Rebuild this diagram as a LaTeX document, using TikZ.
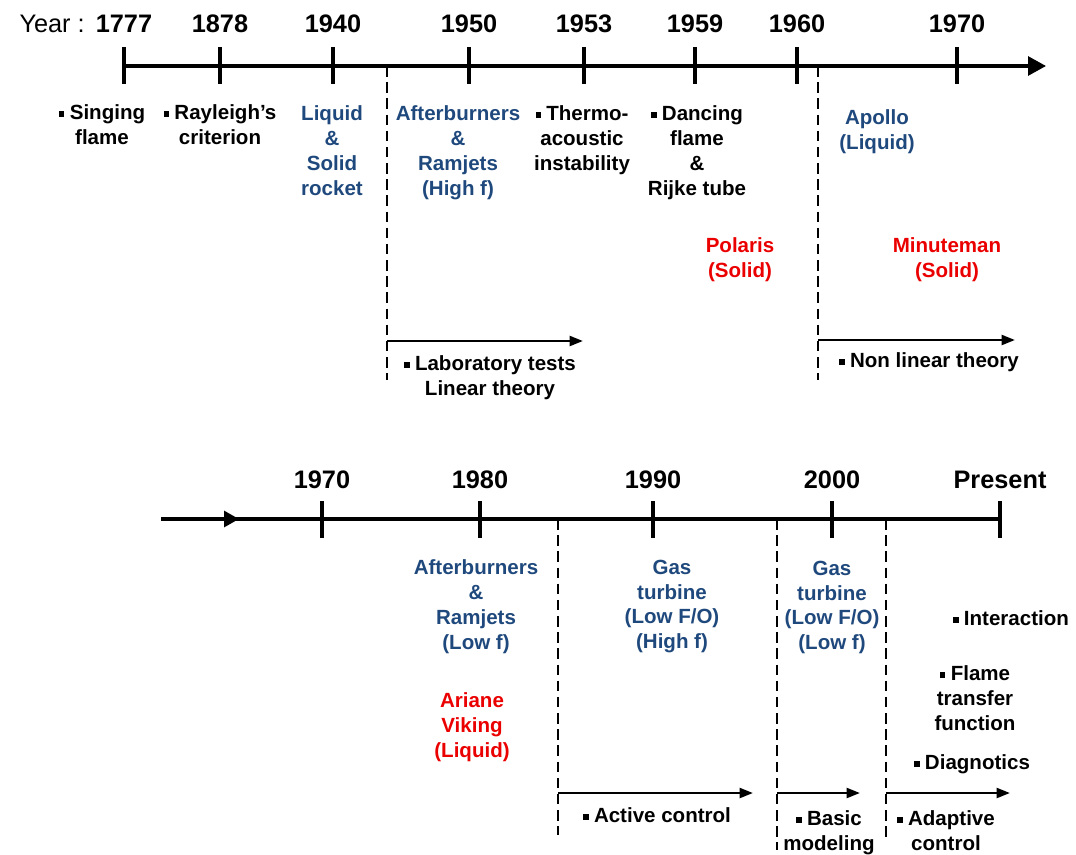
\documentclass[tikz,border=0pt]{standalone}
\usepackage{fontspec}
\setmainfont{Liberation Sans}
\usetikzlibrary{calc}
\usetikzlibrary{positioning}
\usetikzlibrary{arrows.meta}
\definecolor{evBlue}{RGB}{31,73,125}
\definecolor{evRed}{RGB}{235,0,0}
\tikzstyle{yearnode} = [font=\bfseries\fontsize{18}{20}\selectfont, anchor=base, inner sep=0pt]
\tikzstyle{evnode} = [font=\bfseries\fontsize{14.6}{17.7}\selectfont, align=center, anchor=north, inner sep=0pt]
\tikzstyle{colorBlue} = [text=evBlue]
\tikzstyle{colorRed} = [text=evRed]
\tikzstyle{timeline} = [line width=2.2pt]
\tikzstyle{tickmark} = [line width=2.2pt]
\tikzstyle{phase} = [line width=2pt, dash pattern=on 7.5pt off 4pt]
\tikzstyle{phasearrow} = [line width=1.8pt, -{Triangle[length=9.5pt, width=7pt]}]
\newcommand{\bul}{\rule[0.13em]{0.27em}{0.27em}\hspace{0.26em}}

\begin{document}
\begin{tikzpicture}[x=0.025cm, y=-0.025cm]
    \useasboundingbox (0,0) rectangle (1076,854);
    % upper time line
    \coordinate (top_start) at (124,66);
    \coordinate (top_end) at (1046,66);
    \draw[timeline, -{Triangle[length=12.8pt, width=13.5pt]}] (top_start) -- (top_end);
    \foreach \yr/\x in {1777/124, 1878/220, 1940/333, 1950/469, 1953/584, 1959/695, 1960/797, 1970/957} {
        \coordinate (tick_\yr) at (\x,66);
        \draw[tickmark] ($(tick_\yr)+(0,-19)$) -- ($(tick_\yr)+(0,18)$);
        \node[yearnode] (yr_\yr) at ($(tick_\yr)+(0,-33)$) {\yr};
    }
    \node[yearnode, font=\fontsize{18}{20}\selectfont, anchor=base east] (yr_label) at (85,33) {Year :};
    % phases above
    \coordinate (lin_top) at (387,66);
    \coordinate (lin_bot) at (387,380);
    \coordinate (lin_corner) at (387,341);
    \coordinate (lin_end) at (583,341);
    \draw[phase] (lin_top) -- (lin_bot);
    \draw[phasearrow] (lin_corner) -- (lin_end);
    \coordinate (nl_top) at (818,66);
    \coordinate (nl_bot) at (818,380);
    \coordinate (nl_corner) at (818,340);
    \coordinate (nl_end) at (1015,340);
    \draw[phase] (nl_top) -- (nl_bot);
    \draw[phasearrow] (nl_corner) -- (nl_end);
    % events above
    \node[evnode] (ev_singing) at ($(tick_1777)+(-22,38.5)$) {\bul Singing\\flame};
    \node[evnode] (ev_rayleigh) at ($(tick_1878)+(0,38.5)$) {\bul Rayleigh's\\criterion};
    \node[evnode, colorBlue] (ev_rocket) at ($(tick_1940)+(-1,39.5)$) {Liquid\\\&\\Solid\\rocket};
    \node[evnode, colorBlue] (ev_ab_high) at ($(tick_1950)+(-11,39.5)$) {Afterburners\\\&\\Ramjets\\(High f)};
    \node[evnode] (ev_thermo) at ($(tick_1953)+(-2,39.5)$) {\bul Thermo-\\acoustic\\instability};
    \node[evnode] (ev_dancing) at ($(tick_1959)+(2,39.5)$) {\bul Dancing\\flame\\\&\\Rijke tube};
    \node[evnode, colorBlue] (ev_apollo) at ($(tick_1960)+(80,43.5)$) {Apollo\\(Liquid)};
    \node[evnode, colorRed] (ev_polaris) at ($(tick_1959)+(45,171.5)$) {Polaris\\(Solid)};
    \node[evnode, colorRed] (ev_minuteman) at ($(tick_1970)+(-10,171.5)$) {Minuteman\\(Solid)};
    \node[evnode] (ph_linear) at ($(lin_corner)+(103,14.5)$) {\bul Laboratory tests\\Linear theory};
    \node[evnode] (ph_nonlinear) at ($(nl_corner)+(111,12.5)$) {\bul Non linear theory};

    % lower time line
    \coordinate (bot_start) at (161,519);
    \coordinate (bot_arrow) at (239,519);
    \coordinate (bot_end) at (1000,519);
    \draw[timeline] (bot_start) -- (bot_end);
    \draw[timeline, -{Triangle[length=10.6pt, width=11.3pt]}] (bot_start) -- (bot_arrow);
    \foreach \yr/\x in {1970b/322, 1980/480, 1990/653, 2000/832, Present/1000} {
        \coordinate (tick_\yr) at (\x,519);
        \draw[tickmark] ($(tick_\yr)+(0,-18)$) -- ($(tick_\yr)+(0,19)$);
    }
    \node[yearnode] (yr_1970b) at ($(tick_1970b)+(0,-31)$) {1970};
    \node[yearnode] (yr_1980) at ($(tick_1980)+(0,-31)$) {1980};
    \node[yearnode] (yr_1990) at ($(tick_1990)+(0,-31)$) {1990};
    \node[yearnode] (yr_2000) at ($(tick_2000)+(0,-31)$) {2000};
    \node[yearnode] (yr_present) at ($(tick_Present)+(0,-31)$) {Present};
    % phases below
    \coordinate (act_top) at (558,519);
    \coordinate (act_bot) at (558,835);
    \coordinate (act_corner) at (558,793);
    \coordinate (act_end) at (753,793);
    \draw[phase] (act_top) -- (act_bot);
    \draw[phasearrow] (act_corner) -- (act_end);
    \coordinate (bm_top) at (777,519);
    \coordinate (bm_bot) at (777,850);
    \coordinate (bm_corner) at (777,793);
    \coordinate (bm_end) at (860,793);
    \draw[phase] (bm_top) -- (bm_bot);
    \draw[phasearrow] (bm_corner) -- (bm_end);
    \coordinate (ad_top) at (886,519);
    \coordinate (ad_bot) at (886,840);
    \coordinate (ad_corner) at (886,793);
    \coordinate (ad_end) at (1010,793);
    \draw[phase] (ad_top) -- (ad_bot);
    \draw[phasearrow] (ad_corner) -- (ad_end);
    % events below
    \node[evnode, colorBlue] (ev_ab_low) at ($(tick_1980)+(-4,40.5)$) {Afterburners\\\&\\Ramjets\\(Low f)};
    \node[evnode, colorRed] (ev_ariane) at ($(tick_1980)+(-8,173.5)$) {Ariane\\Viking\\(Liquid)};
    \node[evnode, colorBlue] (ev_gas_high) at ($(tick_1990)+(19,40.5)$) {Gas\\turbine\\(Low F/O)\\(High f)};
    \node[evnode, colorBlue] (ev_gas_low) at ($(tick_2000)+(0,41.5)$) {Gas\\turbine\\(Low F/O)\\(Low f)};
    \node[evnode] (ev_interaction) at ($(tick_Present)+(11,91.5)$) {\bul Interaction};
    \node[evnode] (ev_ftf) at ($(tick_Present)+(-25,146.5)$) {\bul Flame\\transfer\\function};
    \node[evnode] (ev_diag) at ($(tick_Present)+(-28,235.5)$) {\bul Diagnotics};
    \node[evnode] (ph_active) at ($(act_corner)+(99,14.5)$) {\bul Active control};
    \node[evnode] (ph_basic) at ($(bm_corner)+(52,17.5)$) {\bul Basic\\modeling};
    \node[evnode] (ph_adaptive) at ($(ad_corner)+(60,17.5)$) {\bul Adaptive\\control};
\end{tikzpicture}
\end{document}
